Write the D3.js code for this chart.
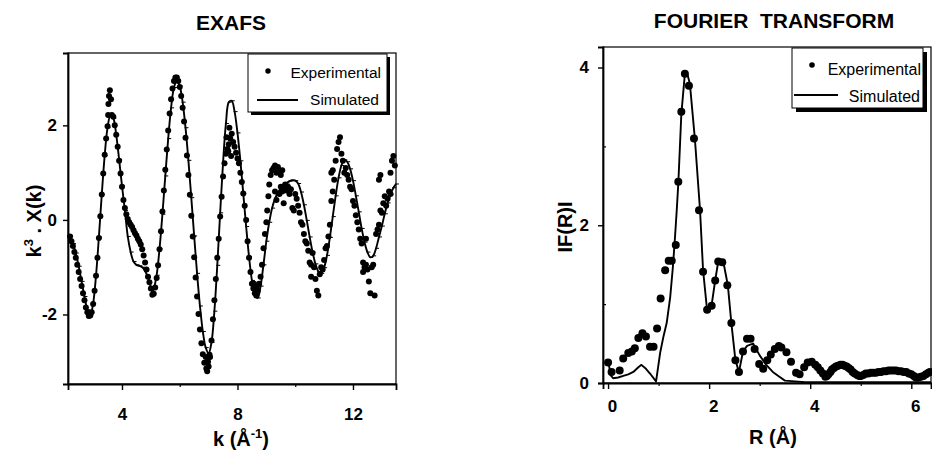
<!DOCTYPE html>
<html><head><meta charset="utf-8">
<script src="https://cdn.jsdelivr.net/npm/d3@7"></script>
<style>
html,body{margin:0;padding:0;background:#fff;}
svg{display:block;}
</style></head><body>
<svg id="chart" width="932" height="451"></svg>
<script>
// ---------- DATA ----------
// EXAFS simulated [k, k3.X(k)]
const exafsSim = [[2.2,-0.33],[2.3,-0.5],[2.4,-0.7],[2.5,-0.98],[2.6,-1.3],[2.7,-1.62],[2.8,-1.9],[2.9,-2.03],[3.0,-1.77],[3.1,-1.18],[3.2,-0.36],[3.3,0.54],[3.4,1.36],[3.5,1.95],[3.6,2.21],[3.7,2.15],[3.8,1.8],[3.9,1.28],[4.0,0.72],[4.1,0.2],[4.2,-0.35],[4.3,-0.68],[4.4,-0.88],[4.5,-0.95],[4.6,-0.97],[4.7,-1.0],[4.8,-1.08],[4.9,-1.22],[5.0,-1.42],[5.05,-1.54],[5.1,-1.46],[5.2,-1.17],[5.3,-0.61],[5.4,0.12],[5.5,0.93],[5.6,1.72],[5.7,2.37],[5.8,2.8],[5.9,2.95],[6.0,2.83],[6.1,2.49],[6.2,1.95],[6.3,1.26],[6.4,0.47],[6.5,-0.34],[6.6,-1.13],[6.7,-1.82],[6.8,-2.36],[6.9,-2.7],[7.0,-2.82],[7.1,-2.59],[7.2,-1.93],[7.3,-0.96],[7.4,0.15],[7.5,1.21],[7.6,2.04],[7.7,2.49],[7.8,2.52],[7.9,2.29],[8.0,1.84],[8.1,1.25],[8.2,0.56],[8.3,-0.14],[8.4,-0.78],[8.5,-1.28],[8.6,-1.57],[8.7,-1.65],[8.8,-1.4],[8.9,-0.95],[9.0,-0.45],[9.1,-0.05],[9.2,0.25],[9.3,0.45],[9.4,0.58],[9.5,0.67],[9.6,0.74],[9.7,0.78],[9.8,0.82],[9.9,0.84],[10.0,0.83],[10.1,0.77],[10.2,0.59],[10.3,0.32],[10.4,-0.01],[10.5,-0.36],[10.6,-0.68],[10.7,-0.93],[10.8,-1.09],[10.9,-1.13],[11.0,-1.01],[11.1,-0.75],[11.2,-0.37],[11.3,0.07],[11.4,0.51],[11.5,0.89],[11.6,1.15],[11.7,1.27],[11.8,1.23],[11.9,1.08],[12.0,0.83],[12.1,0.51],[12.2,0.17],[12.3,-0.18],[12.4,-0.47],[12.5,-0.68],[12.6,-0.79],[12.7,-0.76],[12.8,-0.6],[12.9,-0.36],[13.0,-0.13],[13.1,0.13],[13.2,0.36],[13.3,0.54],[13.4,0.68],[13.49,0.76]];

// EXAFS experimental [k, k3.X(k)]
const exafsExp = [[2.2,-0.35],[2.25,-0.45],[2.3,-0.55],[2.35,-0.68],[2.4,-0.8],[2.45,-0.95],[2.5,-1.1],[2.55,-1.25],[2.6,-1.4],[2.65,-1.55],[2.7,-1.7],[2.75,-1.85],[2.8,-1.95],[2.85,-2.03],[2.9,-2.02],[2.95,-1.95],[3.0,-1.78],[3.05,-1.5],[3.1,-1.18],[3.15,-0.8],[3.2,-0.38],[3.25,0.08],[3.3,0.54],[3.35,0.98],[3.4,1.38],[3.45,1.72],[3.5,1.98],[3.52,2.22],[3.53,2.45],[3.55,2.62],[3.58,2.74],[3.62,2.55],[3.65,2.22],[3.7,2.18],[3.75,2.0],[3.8,1.8],[3.85,1.55],[3.9,1.25],[3.95,0.98],[4.0,0.7],[4.05,0.42],[4.1,0.25],[4.15,0.12],[4.2,0.02],[4.25,-0.05],[4.3,-0.1],[4.35,-0.15],[4.4,-0.22],[4.45,-0.28],[4.5,-0.33],[4.55,-0.4],[4.6,-0.45],[4.65,-0.52],[4.7,-0.62],[4.75,-0.75],[4.8,-0.9],[4.85,-1.05],[4.9,-1.2],[4.95,-1.32],[5.0,-1.45],[5.05,-1.58],[5.1,-1.56],[5.15,-1.43],[5.2,-1.23],[5.25,-0.96],[5.3,-0.62],[5.35,-0.24],[5.4,0.18],[5.45,0.62],[5.5,1.06],[5.55,1.49],[5.6,1.89],[5.65,2.25],[5.7,2.55],[5.75,2.78],[5.8,2.94],[5.85,3.01],[5.9,3.01],[5.95,2.94],[6.0,2.81],[6.05,2.62],[6.1,2.37],[6.15,2.08],[6.2,1.74],[6.25,1.36],[6.3,0.95],[6.35,0.53],[6.4,0.09],[6.45,-0.35],[6.5,-0.79],[6.55,-1.22],[6.6,-1.62],[6.65,-1.99],[6.7,-2.32],[6.75,-2.61],[6.8,-2.84],[6.85,-3.02],[6.9,-2.9],[6.92,-3.14],[6.95,-3.2],[6.98,-3.0],[7.0,-3.1],[7.03,-2.85],[7.05,-2.9],[7.1,-2.55],[7.15,-2.1],[7.2,-1.7],[7.25,-1.25],[7.3,-0.8],[7.35,-0.4],[7.4,0.07],[7.45,0.49],[7.5,0.92],[7.55,1.2],[7.6,1.4],[7.62,1.75],[7.65,1.5],[7.68,1.45],[7.7,1.6],[7.72,1.95],[7.75,1.72],[7.78,1.35],[7.8,1.82],[7.85,1.65],[7.9,1.55],[7.95,1.42],[8.0,1.3],[8.05,1.2],[8.1,1.0],[8.15,0.8],[8.2,0.56],[8.25,0.3],[8.3,0.0],[8.35,-0.45],[8.4,-0.8],[8.45,-1.1],[8.5,-1.35],[8.55,-1.45],[8.57,-1.35],[8.6,-1.55],[8.62,-1.45],[8.65,-1.6],[8.68,-1.4],[8.7,-1.5],[8.75,-1.35],[8.8,-1.2],[8.85,-0.95],[8.9,-0.6],[8.95,-0.3],[9.0,-0.05],[9.03,0.2],[9.07,0.5],[9.1,0.75],[9.15,0.95],[9.2,1.05],[9.25,1.1],[9.3,1.15],[9.35,1.0],[9.4,1.12],[9.45,1.05],[9.5,0.95],[9.55,1.05],[9.3,0.6],[9.35,0.42],[9.45,0.55],[9.5,0.7],[9.55,0.6],[9.6,0.68],[9.6,0.35],[9.65,0.75],[9.7,0.62],[9.75,0.7],[9.8,0.55],[9.85,0.65],[9.9,0.25],[9.95,0.2],[10.0,0.55],[10.05,0.45],[10.1,0.3],[10.15,0.15],[10.2,-0.05],[10.25,-0.1],[10.3,-0.3],[10.35,-0.45],[10.4,-0.5],[10.45,-0.65],[10.5,-0.9],[10.55,-0.95],[10.55,-1.2],[10.6,-0.7],[10.65,-1.0],[10.7,-1.25],[10.75,-1.5],[10.8,-1.6],[10.85,-1.15],[10.9,-1.0],[10.95,-1.05],[11.0,-0.85],[11.05,-0.6],[11.1,-0.55],[11.15,-0.35],[11.2,-0.1],[11.25,0.4],[11.3,0.6],[11.25,1.0],[11.3,1.05],[11.35,0.85],[11.4,1.25],[11.45,1.5],[11.5,1.65],[11.55,1.75],[11.6,1.4],[11.65,1.25],[11.7,1.0],[11.75,1.1],[11.8,0.95],[11.85,0.85],[11.9,0.7],[11.95,0.65],[12.0,0.4],[12.05,0.3],[12.1,0.1],[12.15,-0.05],[12.2,-0.2],[12.25,-0.4],[12.3,-0.5],[12.35,-0.9],[12.35,-1.1],[12.4,-1.0],[12.45,-0.95],[12.45,-0.4],[12.5,-1.05],[12.55,-1.3],[12.6,-1.55],[12.65,-1.0],[12.7,-0.95],[12.75,-1.6],[12.8,-0.3],[12.85,-0.2],[12.9,-0.1],[12.9,0.85],[12.95,0.95],[12.95,0.2],[13.0,0.15],[13.05,0.35],[13.1,0.5],[13.15,0.3],[13.2,0.45],[13.25,0.6],[13.3,0.55],[13.3,1.0],[13.35,1.25],[13.4,1.35],[13.45,1.15]];

// Fourier transform simulated [R, |F(R)|]
const ftSim = [[0.0,0.3],[0.05,0.1],[0.1,0.06],[0.2,0.07],[0.3,0.09],[0.4,0.11],[0.5,0.14],[0.6,0.2],[0.66,0.23],[0.75,0.18],[0.83,0.12],[0.95,0.02],[1.03,0.38],[1.1,0.6],[1.16,0.76],[1.23,1.09],[1.28,1.45],[1.32,1.8],[1.36,2.2],[1.39,2.53],[1.45,3.41],[1.52,3.92],[1.56,3.94],[1.62,3.79],[1.72,3.08],[1.82,2.19],[1.88,1.43],[1.96,0.92],[2.05,0.99],[2.12,1.3],[2.18,1.54],[2.28,1.54],[2.37,1.24],[2.44,0.76],[2.52,0.29],[2.59,0.14],[2.67,0.4],[2.75,0.47],[2.87,0.5],[3.0,0.35],[3.13,0.23],[3.26,0.14],[3.39,0.08],[3.5,0.03],[3.7,0.02],[3.9,0.01],[4.1,0.01],[4.4,0.01],[4.8,0.01],[5.2,0.01],[5.6,0.01],[6.0,0.01],[6.39,0.01]];

// Fourier transform experimental [R, |F(R)|]
const ftExp = [[0.0,0.26],[0.07,0.14],[0.23,0.16],[0.3,0.31],[0.4,0.38],[0.47,0.4],[0.53,0.44],[0.6,0.57],[0.68,0.63],[0.75,0.59],[0.83,0.46],[0.9,0.46],[0.97,0.69],[1.04,1.07],[1.13,1.43],[1.2,1.55],[1.26,1.55],[1.34,1.75],[1.39,2.55],[1.45,3.44],[1.52,3.92],[1.6,3.77],[1.7,3.1],[1.8,2.19],[1.88,1.41],[1.96,0.93],[2.05,0.98],[2.12,1.3],[2.18,1.54],[2.26,1.53],[2.36,1.24],[2.44,0.76],[2.52,0.29],[2.59,0.14],[2.67,0.4],[2.75,0.56],[2.82,0.56],[2.9,0.43],[2.99,0.24],[3.07,0.18],[3.15,0.29],[3.22,0.36],[3.3,0.43],[3.38,0.47],[3.43,0.45],[3.53,0.39],[3.62,0.27],[3.72,0.13],[3.79,0.11],[3.88,0.2],[3.95,0.26],[4.03,0.27],[4.1,0.23],[4.15,0.2],[4.2,0.16],[4.25,0.12],[4.3,0.08],[4.33,0.09],[4.36,0.11],[4.4,0.14],[4.43,0.17],[4.47,0.19],[4.51,0.21],[4.55,0.22],[4.6,0.23],[4.64,0.23],[4.68,0.22],[4.72,0.21],[4.76,0.19],[4.8,0.17],[4.84,0.14],[4.88,0.12],[4.93,0.1],[4.97,0.09],[5.0,0.09],[5.05,0.1],[5.1,0.12],[5.15,0.12],[5.2,0.13],[5.25,0.13],[5.3,0.13],[5.35,0.14],[5.4,0.14],[5.45,0.15],[5.5,0.15],[5.55,0.16],[5.6,0.16],[5.65,0.16],[5.7,0.16],[5.75,0.15],[5.8,0.15],[5.85,0.14],[5.9,0.14],[5.95,0.12],[6.0,0.11],[6.05,0.09],[6.09,0.07],[6.14,0.07],[6.19,0.08],[6.24,0.09],[6.29,0.11],[6.34,0.13],[6.37,0.14]];

// ticks and labels
const exafsXTicks = [4, 8, 12];
const exafsXMinor = [6, 10];
const exafsYTicks = [-2, 0, 2];
const ftXTicks = [0, 2, 4, 6];
const ftXMinor = [1, 3, 5];
const ftYTicks = [0, 2, 4];
const ftYMinor = [1, 3];
const legendLabels = ["Experimental", "Simulated"];
const panelTitles = ["EXAFS", "FOURIER  TRANSFORM"];

// ---------- DRAWING ----------
const FONT = '"Liberation Sans", Arial, Helvetica, sans-serif';
const svg = d3.select("#chart").attr("font-family", FONT);
svg.append("rect").attr("width", 932).attr("height", 451).attr("fill", "#fff");

function drawPanel(p) {
  const x = d3.scaleLinear().domain(p.xDomain).range([p.left, p.right]);
  const y = d3.scaleLinear().domain(p.yDomain).range([p.bottom, p.top]);
  const g = svg.append("g");

  // frame
  g.append("rect").attr("x", p.left).attr("y", p.top)
    .attr("width", p.right - p.left).attr("height", p.bottom - p.top)
    .attr("fill", "none").attr("stroke", "#000").attr("stroke-width", 1.2);

  // x axis
  const ax = g.append("g").attr("transform", `translate(0,${p.bottom})`)
    .call(d3.axisBottom(x).tickValues(p.xTicks).tickSize(6).tickPadding(p.xPad).tickFormat(d => String(d)));
  ax.attr("font-family", FONT).attr("font-size", 17).attr("font-weight", "bold");
  ax.select(".domain").attr("stroke-width", 1.8);
  ax.selectAll(".tick line").attr("stroke-width", 1.4);
  ax.selectAll(".tick text").attr("fill", "#000").attr("dx", p.xLabelDx || 0);
  g.append("g").attr("transform", `translate(0,${p.bottom})`)
    .call(d3.axisBottom(x).tickValues(p.xMinor).tickSize(3).tickFormat(""))
    .call(s => s.select(".domain").remove())
    .selectAll(".tick line").attr("stroke-width", 1.2);

  // y axis
  const ay = g.append("g").attr("transform", `translate(${p.left},0)`)
    .call(d3.axisLeft(y).tickValues(p.yTicks).tickSize(5).tickPadding(p.yPad).tickFormat(d => String(d)));
  ay.attr("font-family", FONT).attr("font-size", 17).attr("font-weight", "bold");
  ay.select(".domain").attr("stroke-width", 1.8);
  ay.selectAll(".tick line").attr("stroke-width", 1.4);
  ay.selectAll(".tick text").attr("fill", "#000");
  if (p.yMinor) {
    g.append("g").attr("transform", `translate(${p.left},0)`)
      .call(d3.axisRight(y).tickValues(p.yMinor).tickSize(3).tickFormat(""))
      .call(s => s.select(".domain").remove())
      .selectAll(".tick line").attr("stroke-width", 1.2);
  }

  // simulated line
  const line = d3.line().x(d => x(d[0])).y(d => y(d[1])).curve(p.curve);
  g.append("path").datum(p.sim).attr("d", line)
    .attr("fill", "none").attr("stroke", "#000").attr("stroke-width", 1.9)
    .attr("stroke-linejoin", "round");
  if (p.simTicks) {
    g.append("g").selectAll("line").data(p.sim).join("line")
      .attr("x1", d => x(d[0]) - 1).attr("x2", d => x(d[0]) + 3)
      .attr("y1", d => y(d[1])).attr("y2", d => y(d[1]))
      .attr("stroke", "#000").attr("stroke-width", 1);
  }

  // experimental points
  g.append("g").selectAll("circle").data(p.exp).join("circle")
    .attr("cx", d => x(d[0])).attr("cy", d => y(d[1])).attr("r", p.dotR)
    .attr("fill", "#000");

  // legend
  const L = p.legend;
  g.append("rect").attr("x", L.x + L.sh).attr("y", L.y + L.sh).attr("width", L.w).attr("height", L.h).attr("fill", "#000");
  g.append("rect").attr("x", L.x).attr("y", L.y).attr("width", L.w).attr("height", L.h)
    .attr("fill", "#fff").attr("stroke", "#000").attr("stroke-width", 1);
  g.append("circle").attr("cx", L.dotX).attr("cy", L.dotY).attr("r", L.dotR).attr("fill", "#000");
  g.append("text").attr("x", L.textX).attr("y", L.t1y).attr("text-anchor", "end")
    .attr("font-size", L.fs).text(legendLabels[0]);
  g.append("line").attr("x1", L.lx1).attr("x2", L.lx2).attr("y1", L.ly).attr("y2", L.ly)
    .attr("stroke", "#000").attr("stroke-width", 2.2);
  g.append("text").attr("x", L.textX2).attr("y", L.t2y).attr("text-anchor", "end")
    .attr("font-size", L.fs).text(legendLabels[1]);
  return {x, y};
}

drawPanel({
  left: 68, right: 396, top: 53, bottom: 384,
  xDomain: [2.13, 13.49], yDomain: [-3.47, 3.53],
  xTicks: exafsXTicks, xMinor: exafsXMinor, yTicks: exafsYTicks,
  xPad: 18, yPad: 6,
  sim: exafsSim, exp: exafsExp, curve: d3.curveCatmullRom.alpha(0.5), simTicks: true, dotR: 3,
  legend: {x: 248, y: 54, w: 139, h: 58, sh: 3, dotX: 268, dotY: 71, dotR: 2.7,
           textX: 381, t1y: 78, lx1: 257, lx2: 298, ly: 100, textX2: 379, t2y: 105, fs: 15.5}
});

drawPanel({
  left: 603, right: 931, top: 47, bottom: 383,
  xDomain: [-0.1, 6.39], yDomain: [0, 4.26],
  xTicks: ftXTicks, xMinor: ftXMinor, yTicks: ftYTicks, yMinor: ftYMinor,
  xPad: 11, yPad: 9, xLabelDx: 4,
  sim: ftSim, exp: ftExp, curve: d3.curveLinear, simTicks: false, dotR: 4,
  legend: {x: 792, y: 48, w: 131, h: 60, sh: 4, dotX: 812, dotY: 65, dotR: 2.8,
           textX: 921, t1y: 75, lx1: 794, lx2: 838, ly: 95, textX2: 920, t2y: 102, fs: 16}
});

// titles
svg.append("text").attr("x", 231).attr("y", 30).attr("text-anchor", "middle")
  .attr("font-size", 21).attr("font-weight", "bold").text(panelTitles[0]);
svg.append("text").attr("x", 774).attr("y", 28).attr("text-anchor", "middle")
  .attr("font-size", 21).attr("font-weight", "bold").style("white-space", "pre").text(panelTitles[1]);

// x axis titles
const xl = svg.append("text").attr("x", 241).attr("y", 446).attr("text-anchor", "middle")
  .attr("font-size", 20).attr("font-weight", "bold").style("white-space", "pre");
xl.append("tspan").text("k (Å");
xl.append("tspan").attr("font-size", 13).attr("dy", -8).text("-1");
xl.append("tspan").attr("dy", 8).text(")");

svg.append("text").attr("x", 773).attr("y", 444).attr("text-anchor", "middle")
  .attr("font-size", 20).attr("font-weight", "bold").text("R (Å)");

// y axis titles
const yl = svg.append("text").attr("transform", "translate(41,221) rotate(-90)")
  .attr("text-anchor", "middle").attr("font-size", 20).attr("font-weight", "bold").style("white-space", "pre");
yl.append("tspan").text("k");
yl.append("tspan").attr("font-size", 13).attr("dy", -8).text("3");
yl.append("tspan").attr("dy", 8).text(" . X(k)");

svg.append("text").attr("transform", "translate(572,227) rotate(-90)")
  .attr("text-anchor", "middle").attr("font-size", 20).attr("font-weight", "bold").text("IF(R)I");
</script>
</body></html>
